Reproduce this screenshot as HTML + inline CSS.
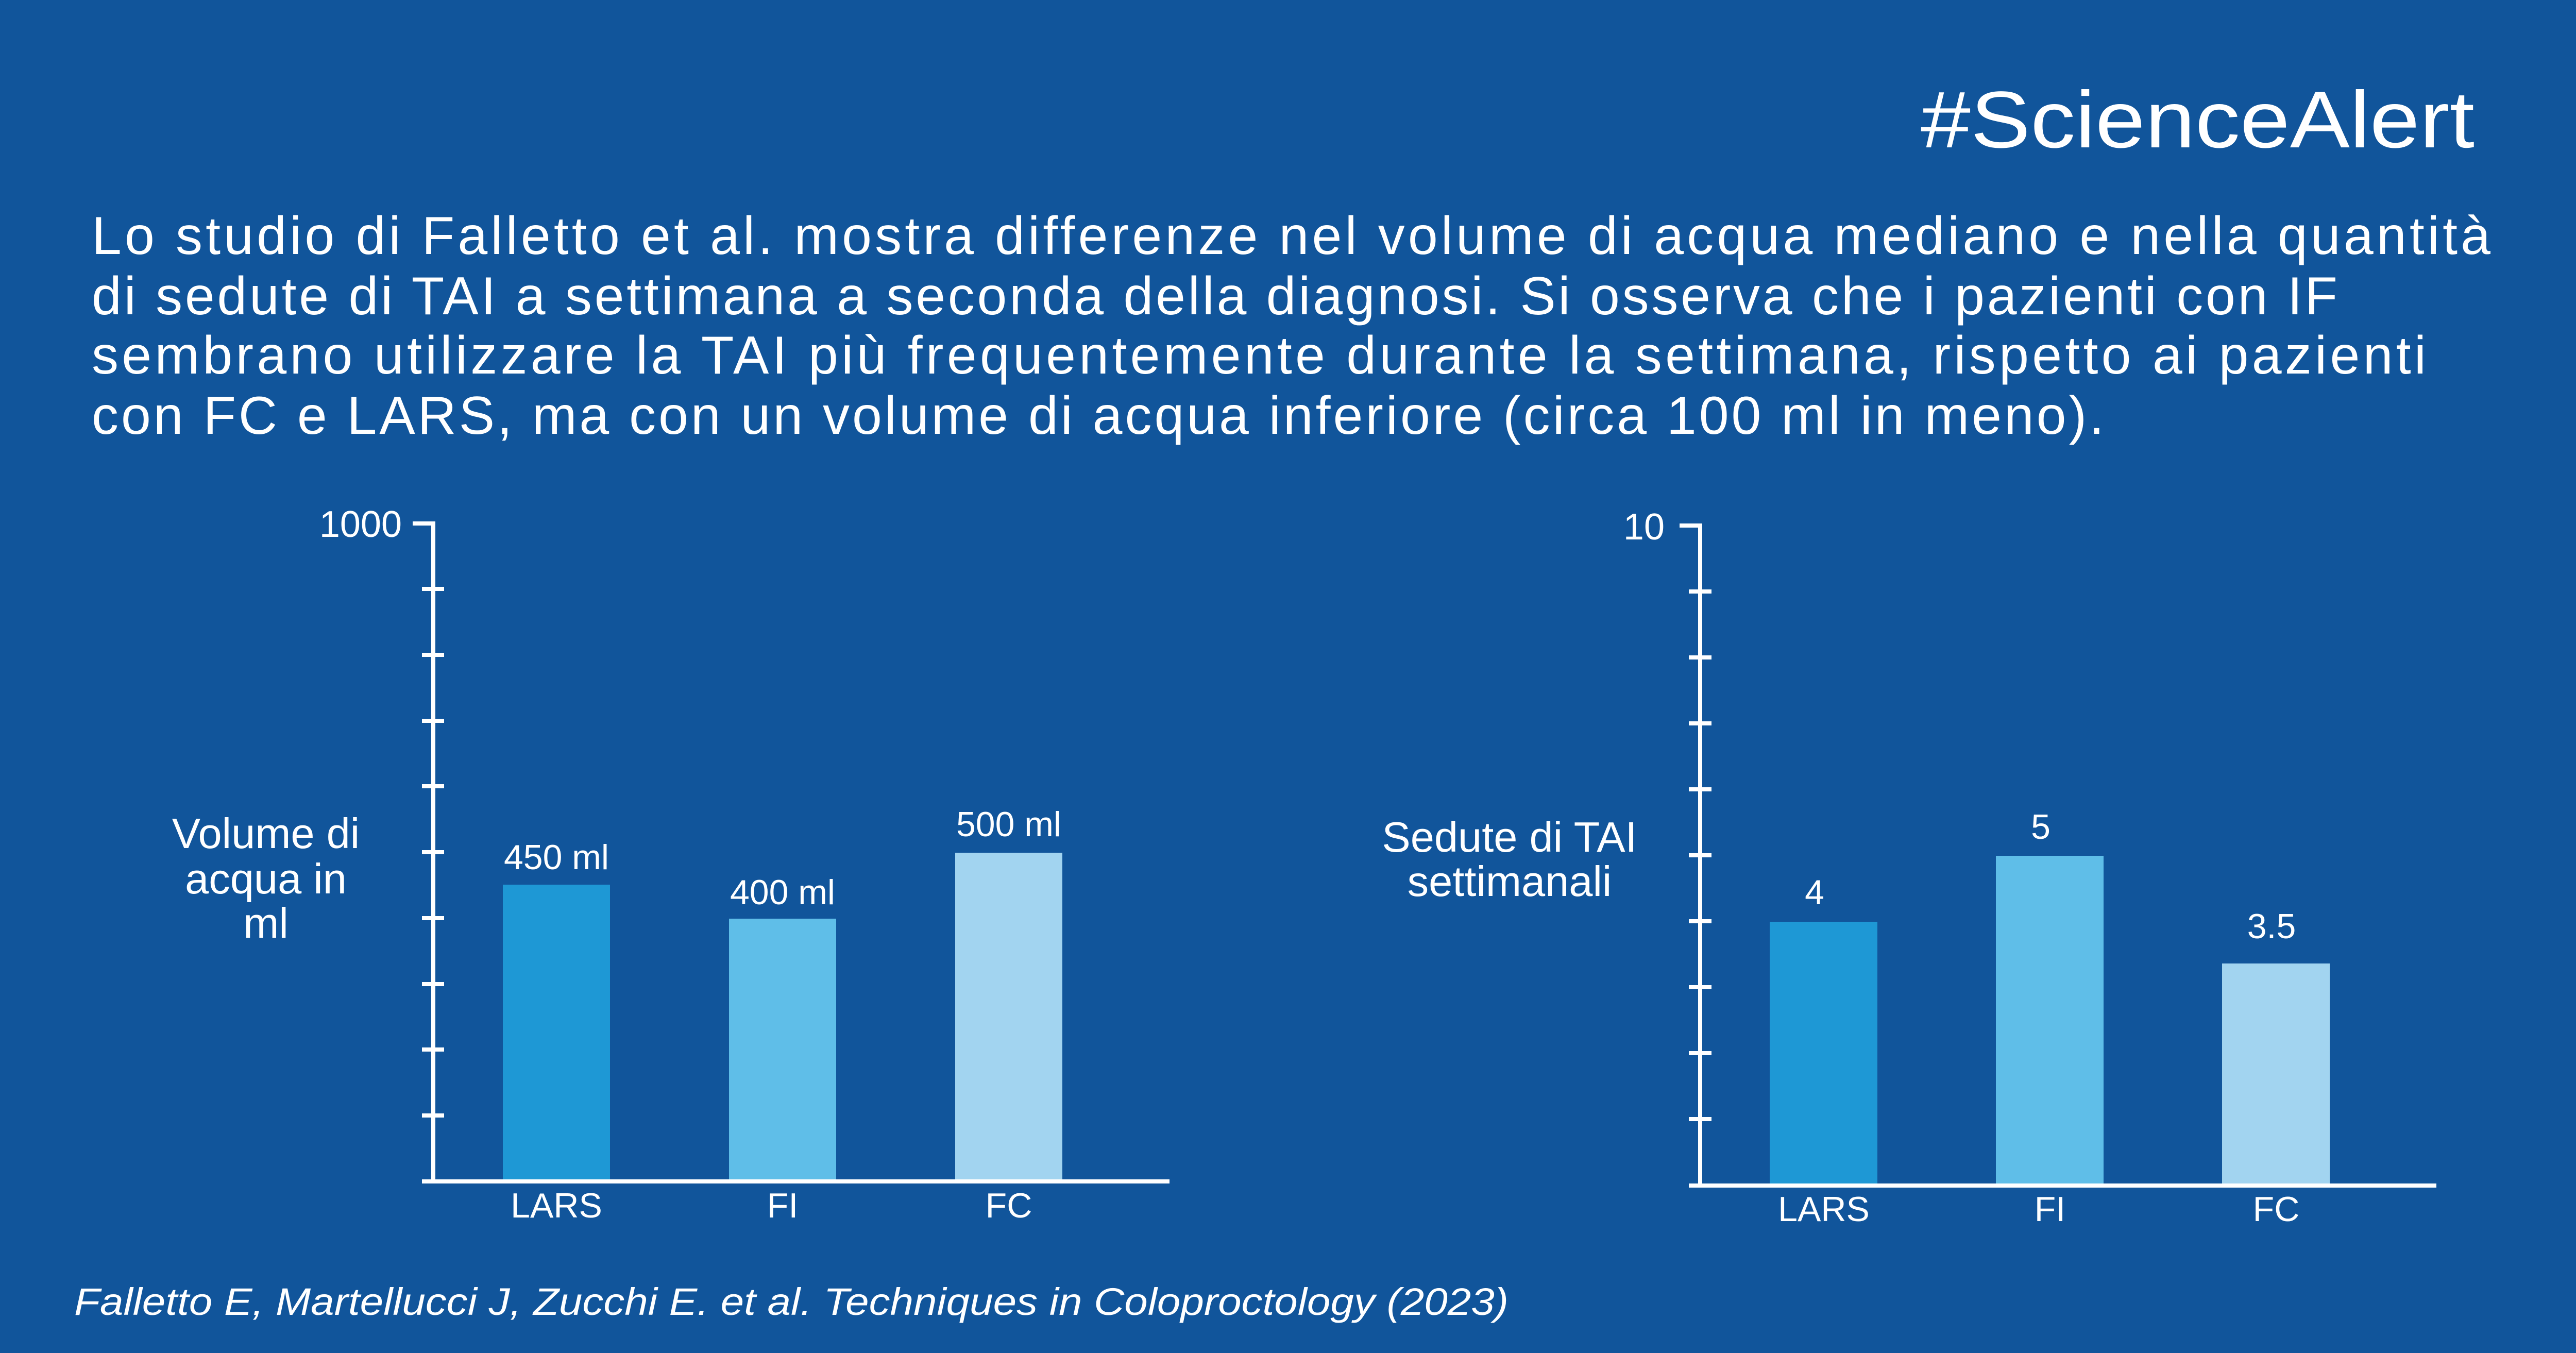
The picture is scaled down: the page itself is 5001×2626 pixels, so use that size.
<!DOCTYPE html>
<html><head><meta charset="utf-8"><style>html,body{margin:0;padding:0;background:#11559B}svg{display:block}</style></head>
<body>
<svg width="5001" height="2626" viewBox="0 0 5001 2626" xmlns="http://www.w3.org/2000/svg" font-family="'Liberation Sans', sans-serif" fill="#fff">
<rect width="5001" height="2626" fill="#11559B"/>
<text x="4803" y="286" font-size="156" text-anchor="end" textLength="1075" lengthAdjust="spacingAndGlyphs">#ScienceAlert</text>
<g font-size="104" lengthAdjust="spacingAndGlyphs">
<text x="178" y="493" textLength="4656">Lo studio di Falletto et al. mostra differenze nel volume di acqua mediano e nella quantità</text>
<text x="178" y="610" textLength="4359">di sedute di TAI a settimana a seconda della diagnosi. Si osserva che i pazienti con IF</text>
<text x="178" y="725" textLength="4531">sembrano utilizzare la TAI più frequentemente durante la settimana, rispetto ai pazienti</text>
<text x="178" y="842" textLength="3906">con FC e LARS, ma con un volume di acqua inferiore (circa 100 ml in meno).</text>
</g>
<text x="144" y="2552" font-size="74" font-style="italic" textLength="2784" lengthAdjust="spacingAndGlyphs">Falletto E, Martellucci J, Zucchi E. et al. Techniques in Coloproctology (2023)</text>

<!-- left chart -->
<rect x="976" y="1717" width="208" height="576" fill="#1E98D5"/>
<rect x="1415" y="1783" width="208" height="510" fill="#5FBEE8"/>
<rect x="1854" y="1655" width="208" height="638" fill="#A2D4F0"/>
<g stroke="#fff" stroke-width="8" fill="none">
<path d="M801 1016 H841 V2293"/>
<path d="M819 2293 H2270"/>
<path d="M819 1143H862M819 1271H862M819 1399H862M819 1526H862M819 1654H862M819 1782H862M819 1910H862M819 2037H862M819 2165H862"/>
</g>
<text x="780" y="1042" font-size="72" text-anchor="end">1000</text>
<g font-size="83" text-anchor="middle">
<text x="516" y="1646">Volume di</text>
<text x="516" y="1734">acqua in</text>
<text x="516" y="1820">ml</text>
</g>
<g font-size="68" text-anchor="middle">
<text x="1080" y="1687">450 ml</text>
<text x="1519" y="1755">400 ml</text>
<text x="1958" y="1623">500 ml</text>
<text x="1080" y="2363">LARS</text>
<text x="1519" y="2363">FI</text>
<text x="1958" y="2363">FC</text>
</g>

<!-- right chart -->
<rect x="3435" y="1789" width="209" height="512" fill="#1E98D5"/>
<rect x="3874" y="1661" width="209" height="640" fill="#5FBEE8"/>
<rect x="4313" y="1870" width="209" height="431" fill="#A2D4F0"/>
<g stroke="#fff" stroke-width="8" fill="none">
<path d="M3260 1020 H3300 V2301"/>
<path d="M3278 2301 H4729"/>
<path d="M3278 1148H3322M3278 1276H3322M3278 1404H3322M3278 1532H3322M3278 1660H3322M3278 1788H3322M3278 1916H3322M3278 2044H3322M3278 2172H3322"/>
</g>
<text x="3231" y="1047" font-size="72" text-anchor="end">10</text>
<g font-size="83" text-anchor="middle">
<text x="2930" y="1653">Sedute di TAI</text>
<text x="2930" y="1739">settimanali</text>
</g>
<g font-size="68" text-anchor="middle">
<text x="3522" y="1755">4</text>
<text x="3961" y="1628">5</text>
<text x="4409" y="1821">3.5</text>
<text x="3540" y="2370">LARS</text>
<text x="3979" y="2370">FI</text>
<text x="4418" y="2370">FC</text>
</g>
</svg>
</body></html>
